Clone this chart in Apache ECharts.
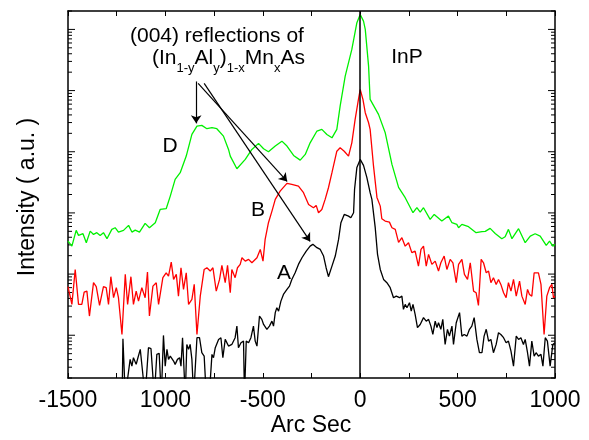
<!DOCTYPE html>
<html><head><meta charset="utf-8">
<script src="https://cdn.jsdelivr.net/npm/echarts@6/dist/echarts.min.js"></script>
<style>html,body{margin:0;padding:0;background:#fff}#c{width:589px;height:440px}</style>
</head><body><div id="c"></div>
<script>
// ---- tick labels (as printed in the reference) ----
const tickLabels = ['-1500', '1000', '-500', '0', '500', '1000'];

// ---- sample D (green) ----
const arcD = [-1500,-1480,-1458,-1446,-1423,-1406,-1386,-1369,-1352,-1335,-1318,-1300,-1275,-1258,-1241,-1215,-1189,-1172,-1155,-1133,-1104,-1082,-1052,-1027,-996,-975,-950,-924,-893,-864,-838,-813,-787,-761,-736,-702,-676,-667,-633,-590,-556,-522,-496,-471,-436,-402,-376,-342,-308,-282,-257,-222,-197,-171,-145,-120,-103,-77,-43,-17,0,17,26,43,51,94,128,163,197,231,271,291,308,325,359,380,419,453,471,496,505,522,556,595,625,642,667,693,727,744,761,779,813,847,873,898,924,955,972,989,1000];
const intD = [346,286,518,429,457,326,504,445,475,429,475,379,538,573,486,518,625,486,524,486,674,573,692,1140,1172,1883,3530,4540,8490,19200,26200,27000,23800,24700,23800,18000,10900,8490,5280,7490,10900,13700,11200,10000,12400,14900,12400,8710,7300,9050,14000,21800,23200,19200,16900,23200,55700,172000,471000,1288000,1758000,1366000,1000000,251000,71700,40800,20700,6210,2610,1773,1008,1216,1031,1216,783,945,735,887,692,649,573,649,595,475,493,499,558,462,379,408,538,379,552,326,418,457,418,294,346,286,306];

// ---- sample B (red) ----
const arcB = [-1500,-1480,-1463,-1446,-1429,-1417,-1403,-1390,-1369,-1355,-1338,-1318,-1304,-1292,-1280,-1266,-1252,-1241,-1223,-1206,-1194,-1177,-1164,-1150,-1138,-1121,-1104,-1092,-1082,-1064,-1047,-1035,-1013,-996,-984,-970,-958,-944,-933,-920,-907,-893,-881,-864,-852,-838,-821,-801,-787,-770,-756,-739,-722,-710,-693,-681,-667,-659,-642,-630,-616,-607,-590,-573,-556,-530,-513,-499,-488,-471,-453,-436,-411,-376,-351,-317,-291,-265,-240,-226,-214,-197,-180,-163,-145,-120,-103,-82,-60,-43,-26,-9,0,14,26,43,51,68,86,103,111,128,150,163,180,197,214,231,248,265,282,299,312,325,339,351,368,385,402,414,431,445,462,476,493,505,522,535,551,565,582,595,607,621,633,647,659,671,684,698,710,722,736,749,761,774,787,801,818,830,847,859,869,881,893,903,915,928,944,958,972,984,992,1000];
const intB = [62.2,31.9,119,31.9,31.9,50.7,52.7,20.6,72.3,62.2,30.8,62.2,59.9,31.9,90.6,41.1,59.9,41.1,10.3,98.8,31.9,90.6,31.9,52.7,36.1,59.9,41.1,108,20.6,63.6,72.3,31.9,87.3,105,92.7,157,81.8,98.8,43.6,127,56.2,105,31.9,38.5,67.8,10.3,43.6,119,127,112,127,52.7,81.8,139,72.3,139,49.6,119,87.3,127,144,185,163,174,153,185,253,163,369,692,1071,1663,2270,3040,2920,2740,2140,1377,1216,1327,1008,1140,1663,2580,4540,10200,11600,10200,8490,14000,33800,71700,104000,71700,43500,29800,23200,5980,1793,1292,804,735,707,573,538,330,393,286,326,224,238,135,253,286,135,210,144,163,112,153,197,119,174,153,72.3,144,174,98.8,81.8,153,52.7,49.6,30.8,174,153,105,112,72.3,87.3,67.8,81.8,67.8,49.6,41.1,72.3,52.7,81.8,43.6,76.8,43.6,31.9,56.2,46.5,43.6,105,98.8,105,67.8,10.3,43.6,59.9,67.8,41.1,43.6];

// ---- sample A (black) ----
const arcA = [-1222,-1218,-1206,-1181,-1172,-1164,-1150,-1141,-1129,-1119,-1104,-1087,-1074,-1057,-1044,-1032,-1021,-1010,-1001,-992,-984,-975,-967,-958,-950,-938,-927,-920,-912,-898,-890,-881,-873,-864,-855,-838,-825,-813,-801,-790,-775,-761,-753,-744,-736,-727,-715,-705,-693,-676,-659,-642,-633,-625,-612,-599,-594,-585,-573,-561,-548,-539,-530,-517,-505,-496,-479,-466,-453,-445,-436,-428,-419,-407,-394,-385,-376,-363,-351,-334,-317,-299,-277,-257,-243,-222,-205,-188,-175,-163,-145,-128,-111,-99,-82,-60,-48,-34,-29,-17,0,17,34,51,60,77,89,103,120,137,154,171,185,202,214,222,231,240,253,262,271,282,294,308,325,339,351,363,373,385,394,402,414,424,436,448,458,471,479,493,510,522,534,548,561,573,585,599,612,625,636,647,659,671,684,698,710,722,736,749,761,774,787,801,813,825,838,847,859,869,881,893,903,915,928,938,950,961,975,989,1000];
const intA = [1,8.78,1,4.03,3.13,4.29,3.34,4.29,5.87,6.26,1,6.26,6.03,1,4.86,5.05,1,9.94,3.13,5.87,4.03,4.56,4.29,3.78,3.34,4.03,4.29,3.13,9.12,1,7.08,5.87,7.08,4.03,1,9.12,9.12,5.18,4.56,1,1,4.86,4.29,6.26,6.65,8.55,9.12,4.29,8.55,6.65,7.08,9.12,14.1,6.26,7.55,8.02,1,8.02,7.55,9.12,14.1,8.02,6.65,20.6,18.2,15.0,12.5,14.1,17.0,14.1,23.4,28.2,24.8,36.1,46.5,43.6,56.2,63.6,81.8,105,144,185,238,286,306,270,253,197,127,90.6,135,197,369,692,945,887,835,1008,2420,5540,7490,5980,3810,2140,1663,580,210,119,81.8,72.3,59.9,41.1,43.6,41.1,43.6,26.5,31.9,28.2,34.0,24.8,31.9,21.9,13.3,15.0,19.4,17.0,18.2,14.1,10.3,17.0,13.3,16.0,12.5,18.2,7.08,12.5,9.68,14.1,7.08,16.0,23.4,9.68,10.3,9.68,12.5,14.1,19.4,8.55,5.18,5.18,9.68,12.5,8.02,8.55,5.18,7.08,11.0,10.3,9.12,7.55,8.02,5.51,3.13,9.68,8.55,9.12,7.08,8.55,5.18,3.13,8.02,4.56,5.18,4.56,4.86,3.13,9.12,8.02,3.13,7.08,7.55];

// ---- annotation arrows (data coordinates: arc sec, intensity) ----
const arrowFrom = [[-842, 141000], [-832, 131000], [-801, 131000]];
const arrowTo   = [[-842, 29100],  [-375, 3270],   [-257, 342]];

const FONT = '"Liberation Sans", Arial, Helvetica, sans-serif';
const zip = (a, b) => a.map((x, i) => [x, b[i]]);

// log-axis tick marks (decades and 2..9 subdivisions)
const yTicks = [];
for (let e = 0; e <= 6; e++) {
  for (let m = 1; m <= 9; m++) {
    const v = m * Math.pow(10, e);
    if (v >= 2 && v <= 2e6) yTicks.push([-1500, v, m === 1 ? 1 : 0]);
  }
}

const chart = echarts.init(document.getElementById('c'), null, { renderer: 'canvas' });
const axisLineStyle = { color: '#000', width: 1.5 };

chart.setOption({
  animation: false,
  backgroundColor: '#fff',
  grid: { left: 68, right: 34, top: 11, bottom: 62 },
  xAxis: [
    {
      type: 'value', min: -1500, max: 1000, interval: 250, position: 'bottom',
      axisLine: { show: true, onZero: false, lineStyle: axisLineStyle },
      axisTick: { show: true, inside: true, length: 5, lineStyle: { color: '#000', width: 1 } },
      axisLabel: {
        margin: 11, fontSize: 23, color: '#000', fontFamily: FONT,
        formatter: v => (Math.abs(v % 500) < 1e-6 ? tickLabels[Math.round((v + 1500) / 500)] : '')
      },
      splitLine: { show: false }
    },
    {
      type: 'value', min: -1500, max: 1000, interval: 250, position: 'top',
      axisLine: { show: true, onZero: false, lineStyle: axisLineStyle },
      axisTick: { show: true, inside: true, length: 5, lineStyle: { color: '#000', width: 1 } },
      axisLabel: { show: false },
      splitLine: { show: false }
    }
  ],
  yAxis: [
    {
      type: 'log', logBase: 10, min: 2, max: 2e6, position: 'left',
      axisLine: { show: true, onZero: false, lineStyle: axisLineStyle },
      axisTick: { show: false }, axisLabel: { show: false }, splitLine: { show: false }
    },
    {
      type: 'log', logBase: 10, min: 2, max: 2e6, position: 'right',
      axisLine: { show: true, onZero: false, lineStyle: axisLineStyle },
      axisTick: { show: false }, axisLabel: { show: false }, splitLine: { show: false }
    }
  ],
  series: [
    {
      type: 'custom', name: 'yticks', silent: true, data: yTicks,
      encode: { x: 0, y: 1 },
      renderItem: (params, api) => {
        const y = api.coord([-1500, api.value(1)])[1];
        const cs = params.coordSys;
        const len = api.value(2) ? 7 : 4;
        const st = { stroke: '#000', lineWidth: 1 };
        return {
          type: 'group', children: [
            { type: 'line', shape: { x1: cs.x, y1: y, x2: cs.x + len, y2: y }, style: st },
            { type: 'line', shape: { x1: cs.x + cs.width - len, y1: y, x2: cs.x + cs.width, y2: y }, style: st }
          ]
        };
      }
    },
    {
      type: 'line', name: 'D', data: zip(arcD, intD), symbol: 'none', silent: true,
      lineStyle: { color: '#00f000', width: 1.3 }, itemStyle: { color: '#00f000' }
    },
    {
      type: 'line', name: 'B', data: zip(arcB, intB), symbol: 'none', silent: true,
      lineStyle: { color: '#ff0000', width: 1.3 }, itemStyle: { color: '#ff0000' },
      markLine: {
        silent: true, symbol: ['none', 'arrow'], symbolSize: 8,
        label: { show: false },
        lineStyle: { color: '#000', width: 1.2, type: 'solid' },
        emphasis: { disabled: true },
        data: arrowFrom.map((p, i) => [{ coord: p }, { coord: arrowTo[i] }])
      }
    },
    {
      type: 'line', name: 'A', data: zip(arcA, intA), symbol: 'none', silent: true,
      lineStyle: { color: '#000', width: 1.3 }, itemStyle: { color: '#000' },
      markLine: {
        silent: true, symbol: ['none', 'none'],
        label: { show: false },
        lineStyle: { color: '#000', width: 1.5, type: 'solid' },
        emphasis: { disabled: true },
        data: [{ xAxis: 0 }]
      }
    }
  ],
  graphic: [
    { type: 'text', x: 130, y: 36, style: { text: '(004) reflections of', font: '21px ' + FONT, fill: '#000', align: 'left', verticalAlign: 'middle' } },
    {
      type: 'text', x: 152, y: 48,
      style: {
        text: '{n|(In}{s|1-y}{n|Al}{s|y}{n|)}{s|1-x}{n|Mn}{s|x}{n|As}',
        align: 'left', verticalAlign: 'top', fill: '#000',
        rich: {
          n: { fontSize: 21, fontFamily: FONT, verticalAlign: 'top', fill: '#000' },
          s: { fontSize: 13, fontFamily: FONT, verticalAlign: 'top', padding: [14, 0, 0, 0], fill: '#000' }
        }
      }
    },
    { type: 'text', x: 170, y: 146, style: { text: 'D', font: '21px ' + FONT, fill: '#000', align: 'center', verticalAlign: 'middle' } },
    { type: 'text', x: 258, y: 210, style: { text: 'B', font: '21px ' + FONT, fill: '#000', align: 'center', verticalAlign: 'middle' } },
    { type: 'text', x: 284, y: 273, style: { text: 'A', font: '21px ' + FONT, fill: '#000', align: 'center', verticalAlign: 'middle' } },
    { type: 'text', x: 407, y: 57, style: { text: 'InP', font: '21px ' + FONT, fill: '#000', align: 'center', verticalAlign: 'middle' } },
    { type: 'text', x: 311, y: 426, style: { text: 'Arc Sec', font: '23px ' + FONT, fill: '#000', align: 'center', verticalAlign: 'middle' } },
    { type: 'text', x: 28, y: 197, rotation: Math.PI / 2, style: { text: 'Intensity ( a.u. )', font: '23px ' + FONT, fill: '#000', align: 'center', verticalAlign: 'middle' } }
  ]
});
</script>
</body></html>
